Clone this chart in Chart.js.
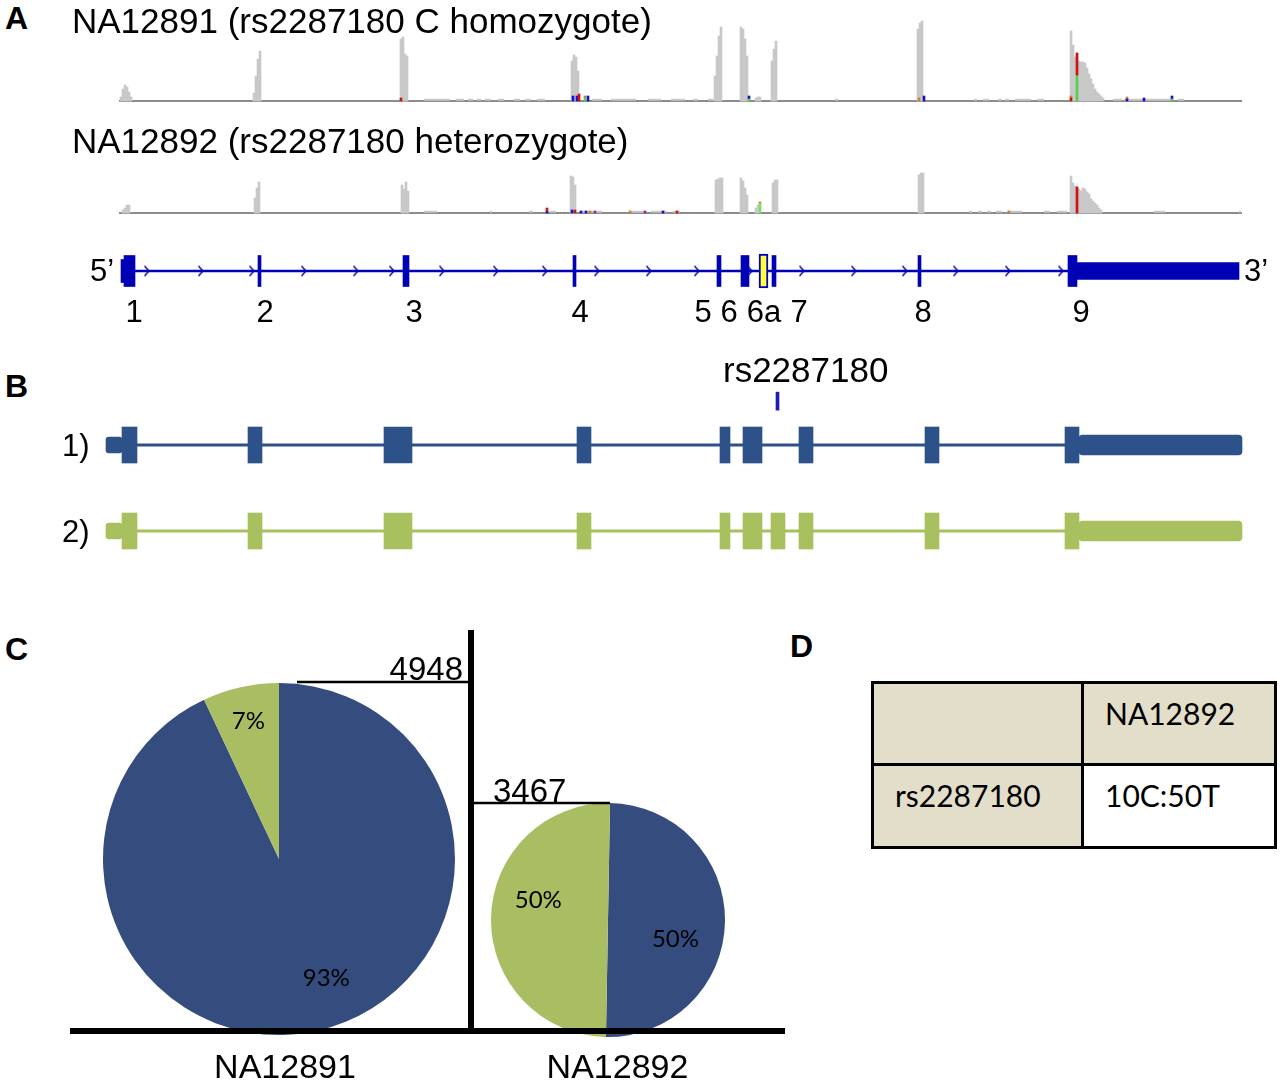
<!DOCTYPE html>
<html>
<head>
<meta charset="utf-8">
<title>rs2287180 isoform expression</title>
<script src="https://cdn.jsdelivr.net/npm/chart.js@4.4.1/dist/chart.umd.min.js"></script>
<style>
  html, body { margin:0; padding:0; background:#fff; overflow:hidden; }
  #page { position:relative; width:1280px; height:1086px; overflow:hidden; background:#fff; }
  #page canvas { position:absolute; }
  .txt { position:absolute; white-space:nowrap; line-height:1; color:#000; font-family:"Liberation Sans", Arial, sans-serif; }
  .lato { font-family: Lato, "Open Sans", sans-serif; }
  .box { position:absolute; }
</style>
</head>
<body>
<div id="page"></div>
<script>
// ======================= DATA =======================
// Panel A – titles of the two coverage tracks
const trackTitles = ['NA12891 (rs2287180 C homozygote)', 'NA12892 (rs2287180 heterozygote)'];

// Panel A – read depth [position, depth] for NA12891
const depthNA12891 = [
  [121,4],[123,12],[125,16],[127,14],[129,9],[131,4],
  [254,8],[256,25],[258,42],[260,50],
  [401,62],[403,64],[405,47],[407,45],
  [572,40],[574,46],[576,44],[578,30],
  [715,25],[717,45],[719,65],[721,74],
  [741,74],[743,72],[745,62],[747,45],
  [756,3],[758,4],[760,4],
  [772,40],[774,52],[776,60],
  [918,72],[920,78],[922,80],
  [1071,70],[1073,56],[1075,44],[1077,48],[1079,40],[1081,39],[1083,39],[1085,38],[1087,33],
  [1089,27],[1091,22],[1093,17],[1095,12],[1097,9],[1099,7],[1101,5],[1103,3]
];
// low-depth stretches [start, end]
const lowDepthNA12891 = [
  [424,450],[456,464],[468,473],[477,481],[485,491],[498,504],[514,520],[525,531],[537,545],
  [592,602],[611,636],[648,661],[671,680],[680,685],[693,698],[708,713],[835,838],
  [974,977],[983,989],[998,1002],[1005,1009],[1015,1031],[1037,1044],
  [1113,1122],[1124,1172],[1178,1184]
];
// mismatch marks [position, low, high]
const redNA12891    = [[401,0,3],[579,0,7],[1071,0,3],[1077,26,48]];
const greenNA12891  = [[1077,0,26],[585,0,3],[749,0,2],[1172,0,2]];
const blueNA12891   = [[573,0,5],[577,0,5],[588,0,5],[749,2,5],[924,0,5],[1127,0,2],[1144,0,3],[1172,2,5]];
const orangeNA12891 = [[919,0,3],[1127,2,4],[1071,3,5],[585,3,5]];

// Panel A – read depth for NA12892
const depthNA12892 = [
  [123,3],[125,5],[127,8],[129,8],
  [255,15],[257,25],[259,31],
  [402,28],[404,24],[406,31],[408,22],
  [571,37],[573,36],[575,28],
  [716,33],[718,34],[720,35],[722,35],
  [741,35],[743,32],[745,25],[747,18],
  [756,5],[758,8],
  [773,30],[775,33],[777,33],
  [919,38],[921,40],[923,40],
  [1071,37],[1073,30],[1075,27],[1077,26],[1079,24],[1081,22],[1083,25],[1085,24],[1087,21],
  [1089,19],[1091,14],[1093,12],[1095,10],[1097,8],[1099,5],[1101,3]
];
const lowDepthNA12892 = [
  [424,437],[490,492],[529,533],[550,556],[581,602],[629,644],[651,667],[673,680],
  [969,972],[978,982],[987,991],[996,1002],[1007,1022],[1044,1050],[1057,1067],[1154,1165],[1239,1241]
];
const redNA12892    = [[547,2,5],[575,0,3],[677,0,2],[1077,0,26]];
const greenNA12892  = [[760,0,9.5]];
const blueNA12892   = [[547,0,2],[572,0,3],[581,0,2],[586,0,2],[663,0,2]];
const orangeNA12892 = [[760,9.5,11],[590,0,2],[630,0,2],[1009,0,2]];
const purpleNA12892 = [[595,0,2],[645,0,2]];

// Panel A – gene model
const trackSpan     = [119, 1242];
const geneExons     = [[124,135],[258,261],[403,409],[573,576],[717,721],[741,749],[772,776],[918,921],[1068,1077]];
const gene5pUTR     = [[121,124]];
const geneAltExon   = [[759,768]];          // exon 6a
const gene3pUTR     = [[1077,1239]];
const geneIntron    = [[122,1068]];
const strandArrows  = [147,201,252,304,356,392,442,496,545,597,649,697,750,802,854,905,956,1008,1061];
const exonNames     = ['1','2','3','4','5','6','6a','7','8','9'];
const exonNamePos   = [134,265,414,580,703,729,764,799,923,1081];

// Panel B – isoforms
const isoformNames  = ['1)','2)'];
const isoform1Exons = [[122,137],[248,262],[384,412],[577,591],[720,730],[743,762],[799,813],[925,939],[1065,1079]];
const isoform2Exons = [[122,137],[248,262],[384,412],[577,591],[720,730],[743,762],[771,785],[799,813],[925,939],[1065,1079]];
const isoform5pUTR  = [106,122];
const isoform3pUTR  = [1079,1242];
const isoformIntron = [122,1065];
const snpName       = 'rs2287180';
const snpPos        = 777.5;

// Panel C – reads and isoform share per sample
const sampleNames   = ['NA12891','NA12892'];
const sampleReads   = [4948, 3467];
const isoform1Pct   = [93, 50];
const isoform2Pct   = [7, 50];

// Panel D – allele counts
const tableHeader   = ['', 'NA12892'];
const tableRow      = ['rs2287180', '10C:50T'];

// ======================= RENDERING =======================
const page = document.getElementById('page');
const SANS = '"Liberation Sans", Arial, sans-serif';
Chart.defaults.font.family = SANS;
const GRAY = '#c8c8c8', IGV_BLUE = '#0000b4', NAVY = '#2d5189', LIME = '#a8c05e';
const PIE_NAVY = '#354c7e', PIE_LIME = '#a9be63';

function mkCanvas(l, t, w, h) {
  const c = document.createElement('canvas');
  c.width = w; c.height = h;
  c.style.left = l + 'px'; c.style.top = t + 'px';
  c.style.width = w + 'px'; c.style.height = h + 'px';
  page.appendChild(c);
  return c;
}
function txt(s, x, baseline, size, o = {}) {
  const d = document.createElement('div');
  d.className = 'txt' + (o.lato ? ' lato' : '');
  d.textContent = s;
  d.style.fontSize = size + 'px';
  if (o.bold) d.style.fontWeight = 'bold';
  const asc = o.lato ? 0.887 : 0.8465;
  d.style.top = (baseline - asc * size) + 'px';
  if (o.right) d.style.right = (1280 - x) + 'px'; else d.style.left = x + 'px';
  page.appendChild(d);
  return d;
}
function box(l, t, w, h, bg) {
  const d = document.createElement('div');
  d.className = 'box';
  Object.assign(d.style, {left:l+'px', top:t+'px', width:w+'px', height:h+'px', background:bg});
  page.appendChild(d);
}
const common = (extraPlugins = {}) => ({
  responsive:false, maintainAspectRatio:false, animation:false, events:[],
  layout:{padding:0, autoPadding:false},
  plugins:Object.assign({legend:{display:false}, tooltip:{enabled:false}, title:{display:false}}, extraPlugins)
});
const noEdgePadding = s => { s.paddingLeft = 0; s.paddingRight = 0; };

// ---------- Panel A: coverage tracks ----------
function coverageTrack(top, height, yMin, depth, lows, marks) {
  const c = mkCanvas(100, top, 1160, height);
  const ds = [];
  marks.forEach(([rows, color]) => ds.push({
    type:'bar', data: rows.map(([x, lo, hi]) => ({x, y:[lo, hi]})),
    backgroundColor: color, barThickness: 2, grouped:false, borderWidth:0
  }));
  ds.push({type:'bar', data: depth.map(([x, d]) => ({x, y:d})), backgroundColor: GRAY, barThickness: 2, grouped:false, borderWidth:0});
  const lowPts = [];
  lows.forEach(([s, e]) => lowPts.push({x:s, y:1.2}, {x:e, y:1.2}, {x:e, y:null}));
  ds.push({type:'line', data: lowPts, borderColor: GRAY, borderWidth: 2, pointRadius:0, spanGaps:false, borderCapStyle:'butt'});
  ds.push({type:'line', data: trackSpan.map(x => ({x, y:0})), borderColor:'#8c8c8c', borderWidth:2, pointRadius:0});
  new Chart(c, {type:'bar', data:{datasets:ds}, options:Object.assign(common(), {
    scales:{
      x:{type:'linear', min:100, max:1260, offset:false, display:false},
      y:{type:'linear', min:yMin, max:yMin + height, display:false}
    }
  })});
}
coverageTrack(10, 95, -4, depthNA12891, lowDepthNA12891,
  [[redNA12891,'#d01010'],[greenNA12891,'#52d24a'],[blueNA12891,'#1010d8'],[orangeNA12891,'#d08020']]);
coverageTrack(150, 65, -2, depthNA12892, lowDepthNA12892,
  [[redNA12892,'#d01010'],[greenNA12892,'#7ee05a'],[blueNA12892,'#1010d8'],[orangeNA12892,'#d08020'],[purpleNA12892,'#a020a0']]);

// ---------- Panel A: gene model ----------
function chevronImg(color) {
  const c = document.createElement('canvas');
  c.width = 8; c.height = 13;
  const g = c.getContext('2d');
  g.strokeStyle = color; g.lineWidth = 1.4;
  g.beginPath(); g.moveTo(1.5, 1.5); g.lineTo(6, 6.5); g.lineTo(1.5, 11.5); g.stroke();
  return c;
}
(function geneModel() {
  const c = mkCanvas(100, 250, 1160, 84);
  const bar = (rows, thick, extra = {}) => Object.assign({
    type:'bar', data: rows.map(([s, e]) => ({x:[s, e], y:0})),
    backgroundColor: IGV_BLUE, barThickness: thick, grouped:false, borderWidth:0
  }, extra);
  const ds = [
    bar(geneAltExon, 34, {backgroundColor:'#ffff3c', borderColor:IGV_BLUE, borderWidth:2, borderSkipped:false}),
    bar(geneExons, 31),
    bar(gene5pUTR, 23),
    bar(gene3pUTR, 17),
    bar(geneIntron, 2),
    {type:'scatter', data: strandArrows.map(x => ({x, y:0})), pointStyle: chevronImg(IGV_BLUE), pointRadius:5}
  ];
  new Chart(c, {type:'bar', data:{datasets:ds}, options:Object.assign(common(), {
    indexAxis:'y',
    scales:{
      x:{type:'linear', min:100, max:1260, offset:false,
         grid:{display:false, drawTicks:false}, border:{display:false},
         afterBuildTicks: s => { s.ticks = exonNamePos.map(v => ({value:v})); },
         afterFit: noEdgePadding,
         ticks:{autoSkip:false, maxRotation:0, minRotation:0, padding:3, color:'#000',
                font:{family:SANS, size:31}, callback:(v, i) => exonNames[i]}},
      y:{type:'linear', min:-1, max:1, offset:false, display:false}
    }
  })});
})();

// ---------- Panel B: isoforms ----------
(function isoforms() {
  const c = mkCanvas(100, 359, 1160, 215);
  const colorOf = ctx => (ctx.raw && ctx.raw.y === 2) ? LIME : NAVY;
  const rows = (list, y) => list.map(([s, e]) => ({x:[s, e], y}));
  const both = seg => [{x:seg, y:1}, {x:seg, y:2}];
  const ds = [
    {type:'bar', data:[{x:[snpPos - 1.5, snpPos + 1.5], y:0.49}], backgroundColor:'#1c1cb0', barThickness:18, grouped:false, borderWidth:0},
    {type:'bar', data:[...rows(isoform1Exons, 1), ...rows(isoform2Exons, 2)], backgroundColor:colorOf, barThickness:36, grouped:false, borderWidth:0},
    {type:'bar', data:both(isoform5pUTR), backgroundColor:colorOf, barThickness:16, grouped:false, borderWidth:0, borderRadius:3, borderSkipped:false},
    {type:'bar', data:both(isoform3pUTR), backgroundColor:colorOf, barThickness:20, grouped:false, borderWidth:0, borderRadius:4, borderSkipped:false},
    {type:'bar', data:both(isoformIntron), backgroundColor:colorOf, barThickness:2.5, grouped:false, borderWidth:0}
  ];
  new Chart(c, {type:'bar', data:{datasets:ds}, options:Object.assign(common(), {
    indexAxis:'y',
    scales:{
      x:{type:'linear', min:100, max:1260, offset:false, display:false},
      y:{type:'linear', min:0, max:2.5, reverse:true, offset:false, display:false}
    }
  })});
})();

// ---------- Panel C: pies on a read-count axis ----------
const sliceLabels = {
  id:'sliceLabels',
  afterDatasetsDraw(chart, _a, o) {
    const ctx = chart.ctx, meta = chart.getDatasetMeta(0), vals = chart.data.datasets[0].data;
    ctx.save();
    ctx.font = o.font; ctx.fillStyle = '#000'; ctx.textAlign = 'center'; ctx.textBaseline = 'middle';
    meta.data.forEach((arc, i) => {
      const p = arc.getProps(['x','y','startAngle','endAngle','outerRadius'], true);
      const a = (p.startAngle + p.endAngle) / 2 + (o.shift[i] || 0) * Math.PI / 180;
      const r = p.outerRadius * o.ratio[i];
      ctx.fillText(vals[i] + '%', p.x + Math.cos(a) * r, p.y + Math.sin(a) * r);
    });
    ctx.restore();
  }
};
function pie(l, t, size, idx, rotation, ratio, shift) {
  const c = mkCanvas(l, t, size, size);
  new Chart(c, {
    type:'pie',
    data:{labels:['isoform 1','isoform 2'], datasets:[{data:[isoform1Pct[idx], isoform2Pct[idx]], backgroundColor:[PIE_NAVY, PIE_LIME], borderWidth:0, hoverOffset:0}]},
    options:Object.assign(common({sliceLabels:{font:'24px Lato, "Open Sans", sans-serif', ratio, shift}}), {rotation}),
    plugins:[sliceLabels]
  });
}
pie(103, 683, 352, 0, 0, [0.73, 0.8], [-9, 0]);
pie(491, 803, 234, 1, 1, [0.6, 0.62], [15, 15]);

(function countAxes() {
  const c = mkCanvas(70, 630, 715, 476);
  const axisX = 1.5594;
  new Chart(c, {type:'line', data:{datasets:[
    {data:[{x:1.0361, y:sampleReads[0]}, {x:axisX, y:sampleReads[0]}], borderColor:'#000', borderWidth:2.5, pointRadius:0},
    {data:[{x:axisX, y:sampleReads[1]}, {x:1.9774, y:sampleReads[1]}], borderColor:'#000', borderWidth:2.5, pointRadius:0}
  ]}, options:Object.assign(common(), {
    scales:{
      x:{type:'linear', min:0.3534, max:2.5038, offset:false,
         grid:{display:false, drawTicks:false}, border:{display:true, width:6, color:'#000'},
         afterBuildTicks: s => { s.ticks = sampleNames.map((_, i) => ({value:i + 1})); },
         afterFit: noEdgePadding,
         ticks:{autoSkip:false, maxRotation:0, minRotation:0, padding:17, color:'#000',
                font:{family:SANS, size:34}, callback:(v, i) => sampleNames[i]}},
      y:{type:'linear', min:674, max:5585, position:{x:axisX},
         grid:{display:false, drawTicks:false}, border:{display:true, width:6, color:'#000'},
         ticks:{display:false}}
    }
  })});
})();

// ---------- Panel D: table ----------
box(872, 682, 403, 165, '#e3dec9');
box(1082, 764, 193, 83, '#ffffff');
[681, 763, 846].forEach(y => box(871, y, 406, 3, '#000'));
[871, 1081, 1274].forEach(x => box(x, 681, 3, 168, '#000'));
txt(tableHeader[0], 895, 725, 30, {lato:true});
txt(tableHeader[1], 1105, 725, 30, {lato:true});
txt(tableRow[0], 895, 807, 30, {lato:true});
txt(tableRow[1], 1105, 807, 30, {lato:true});

// ---------- Text labels ----------
txt('A', 5, 29, 32, {bold:true});
txt(trackTitles[0], 72, 33, 35);
txt(trackTitles[1], 72, 153, 35);
txt('5\u2019', 90, 281, 31);
txt('3\u2019', 1244, 281, 31);
txt('B', 5, 397, 32, {bold:true});
txt(snpName, 723, 382, 35);
txt(isoformNames[0], 62, 456, 31);
txt(isoformNames[1], 62, 542, 31);
txt('C', 5, 660, 32, {bold:true});
txt(String(sampleReads[0]), 463, 680, 33, {right:true});
txt(String(sampleReads[1]), 493, 802, 33);
txt('D', 790, 657, 32, {bold:true});
</script>
</body>
</html>
